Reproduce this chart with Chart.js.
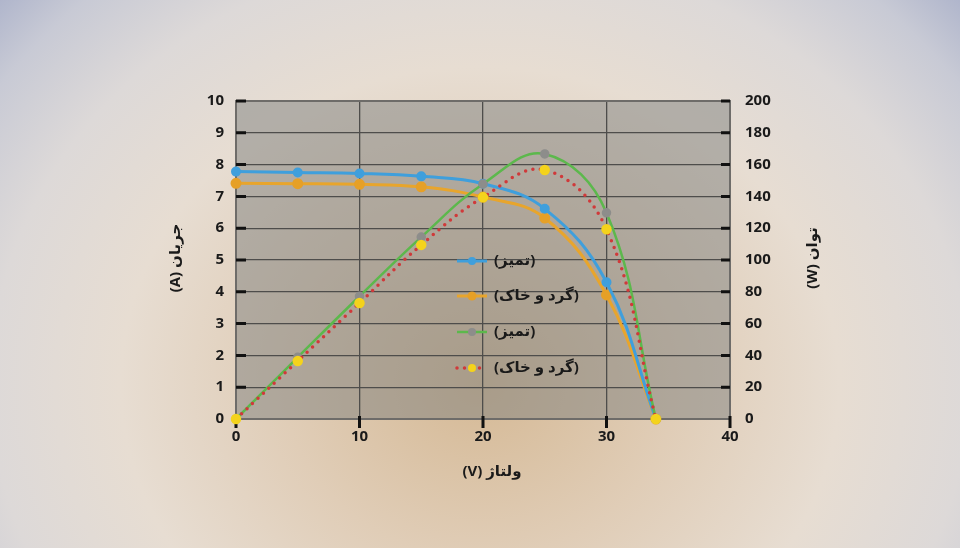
<!DOCTYPE html>
<html>
<head>
<meta charset="utf-8">
<script src="https://cdn.jsdelivr.net/npm/chart.js@4.4.0/dist/chart.umd.min.js"></script>
<style>
  html, body { margin: 0; padding: 0; }
  body {
    width: 960px; height: 548px; overflow: hidden;
    background: radial-gradient(ellipse 68% 105% at 50% 70%, #d5b995 0%, #e0cdb7 30%, #e7ddd2 55%, #ddd9d8 75%, #c8cad5 90%, #aeb4cb 100%);
  }
  canvas { display: block; }
</style>
</head>
<body>
<canvas id="grafico" width="960" height="548"></canvas>
<script>
const voltaje = [0, 5, 10, 15, 20, 25, 30, 34];
const jaryanTamiz = [7.78, 7.75, 7.72, 7.63, 7.40, 6.61, 4.30, 0];
const jaryanGard = [7.41, 7.40, 7.38, 7.30, 6.98, 6.32, 3.90, 0];
const tavanTamiz = [0, 38.8, 77.2, 114.4, 147.8, 166.7, 129.7, 0];
const tavanGard = [0, 36.5, 73.0, 109.5, 139.4, 156.6, 119.3, 0];
const barchasbha = ['(تمیز)', '(گرد و خاک)', '(تمیز)', '(گرد و خاک)'];
const onvanX = 'ولتاژ (V)';
const onvanY = 'جریان (A)';
const onvanY1 = 'توان (W)';

const fontAsli = '"Open Sans", "DejaVu Sans", sans-serif';
const rangMatn = '#1a1a1a';

function noghat(ys) {
  return voltaje.map((v, i) => ({ x: v, y: ys[i] }));
}

// zamine, ghab va tick-haye dakheli
const pluginZamine = {
  id: 'zamine',
  beforeDraw(chart) {
    const { ctx, chartArea: a } = chart;
    ctx.save();
    ctx.fillStyle = 'rgba(125,128,126,0.5)';
    ctx.fillRect(a.left, a.top, a.right - a.left, a.bottom - a.top);
    ctx.restore();
  },
  beforeDatasetsDraw(chart) {
    const { ctx, chartArea: a, scales } = chart;
    ctx.save();
    ctx.strokeStyle = '#6e6c69';
    ctx.lineWidth = 2;
    ctx.strokeRect(a.left, a.top, a.right - a.left, a.bottom - a.top);
    ctx.strokeStyle = '#111';
    ctx.lineWidth = 3;
    ctx.beginPath();
    scales.y.ticks.forEach(t => {
      const y = scales.y.getPixelForValue(t.value);
      if (t.value === 0) return;
      ctx.moveTo(a.left, y); ctx.lineTo(a.left + 10, y);
      ctx.moveTo(a.right - 9, y); ctx.lineTo(a.right, y);
    });
    scales.x.ticks.forEach(t => {
      const x = scales.x.getPixelForValue(t.value);
      const bala = (t.value === 0) ? 4 : -3;
      ctx.moveTo(x, a.bottom + bala); ctx.lineTo(x, a.bottom + 9);
    });
    ctx.stroke();
    ctx.restore();
  },
  afterDraw(chart) {
    const { ctx } = chart;
    ctx.save();
    ctx.fillStyle = rangMatn;
    ctx.font = 'bold 15px ' + fontAsli;
    ctx.textAlign = 'center';
    ctx.textBaseline = 'middle';
    ctx.direction = 'rtl';
    ctx.fillText(onvanX, 492, 472);
    [[176, 258, onvanY], [813, 258, onvanY1]].forEach(([x, y, t]) => {
      ctx.save();
      ctx.translate(x, y);
      ctx.rotate(-Math.PI / 2);
      ctx.fillText(t, 0, 0);
      ctx.restore();
    });

    // legend vasat nemodar
    const radifha = [261, 296, 332, 368];
    chart.data.datasets.forEach((ds, i) => {
      const y = radifha[i];
      ctx.save();
      ctx.strokeStyle = ds.borderColor;
      ctx.lineWidth = ds.borderWidth;
      ctx.lineCap = ds.borderCapStyle || 'butt';
      ctx.setLineDash(ds.borderDash || []);
      ctx.beginPath();
      ctx.moveTo(457, y); ctx.lineTo(487, y);
      ctx.stroke();
      ctx.setLineDash([]);
      ctx.fillStyle = ds.pointBackgroundColor;
      ctx.beginPath();
      ctx.arc(472, y, ds.pointRadius + 0.5, 0, Math.PI * 2);
      ctx.fill();
      ctx.restore();
      ctx.textAlign = 'left';
      ctx.fillText(barchasbha[i], 494, y);
    });
    ctx.restore();
  }
};

const ctx = document.getElementById('grafico').getContext('2d');
const grafico = new Chart(ctx, {
  type: 'line',
  data: {
    datasets: [{
      label: barchasbha[0],
      data: noghat(jaryanTamiz),
      yAxisID: 'y',
      borderColor: '#3f9fdc',
      pointBackgroundColor: '#3f9fdc',
      pointBorderColor: '#3f9fdc',
      borderWidth: 3,
      pointRadius: 3.5,
      tension: 0.4,
      order: 3
    }, {
      label: barchasbha[1],
      data: noghat(jaryanGard),
      yAxisID: 'y',
      borderColor: '#e8a52c',
      pointBackgroundColor: '#e6a027',
      pointBorderColor: '#e6a027',
      borderWidth: 3,
      pointRadius: 4,
      tension: 0.4,
      order: 4
    }, {
      label: barchasbha[2],
      data: noghat(tavanTamiz),
      yAxisID: 'y1',
      borderColor: '#5cb84c',
      pointBackgroundColor: '#8d8d8b',
      pointBorderColor: '#8d8d8b',
      borderWidth: 2.5,
      pointRadius: 3.5,
      tension: 0.4,
      order: 2
    }, {
      label: barchasbha[3],
      data: noghat(tavanGard),
      yAxisID: 'y1',
      borderColor: '#d0393a',
      pointBackgroundColor: '#f4d31c',
      pointBorderColor: '#f4d31c',
      borderWidth: 3.5,
      borderDash: [0, 7.5],
      borderCapStyle: 'round',
      pointRadius: 3.5,
      tension: 0.4,
      order: 1
    }]
  },
  options: {
    responsive: false,
    animation: false,
    clip: false,
    layout: { padding: { top: 101, left: 0, right: 0, bottom: 0 } },
    plugins: { legend: { display: false }, tooltip: { enabled: false } },
    scales: {
      x: {
        type: 'linear',
        min: 0, max: 40,
        ticks: { stepSize: 10, padding: 9, color: rangMatn, font: { family: fontAsli, size: 15, weight: 'bold' } },
        grid: { color: '#4e4d4b', lineWidth: 1.3, drawTicks: false },
        border: { display: false },
        afterFit(s) { s.height = 129; }
      },
      y: {
        position: 'left',
        min: 0, max: 10,
        ticks: { stepSize: 1, padding: 12, color: rangMatn, font: { family: fontAsli, size: 15, weight: 'bold' } },
        grid: { color: '#4e4d4b', lineWidth: 1.3, drawTicks: false },
        border: { display: false },
        afterFit(s) { s.width = 236; }
      },
      y1: {
        position: 'right',
        min: 0, max: 200,
        ticks: { stepSize: 20, padding: 15, color: rangMatn, font: { family: fontAsli, size: 15, weight: 'bold' } },
        grid: { display: false, drawTicks: false },
        border: { display: false },
        afterFit(s) { s.width = 230; }
      }
    }
  },
  plugins: [pluginZamine]
});
</script>
</body>
</html>
